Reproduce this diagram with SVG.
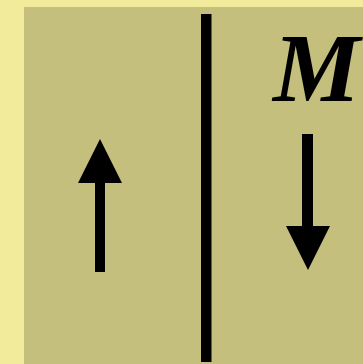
<svg xmlns="http://www.w3.org/2000/svg" width="363" height="364" viewBox="0 0 363 364">
<style>
.ink{fill:#000}
.lbl{font-family:"Liberation Serif","Times New Roman",serif;font-weight:bold;font-style:italic;font-size:98px;fill:#000}
</style>
<rect x="0" y="0" width="363" height="364" fill="#f1eb9b"/>
<rect x="24" y="7" width="339" height="357" fill="#c5bf7e"/>
<g id="divider">
<rect class="ink" x="201" y="14" width="10.5" height="348"/>
</g>
<g id="arrow-up">
<rect class="ink" x="95" y="180" width="10" height="92"/>
<polygon class="ink" points="100,139 122,183 78,183"/>
</g>
<g id="arrow-down">
<rect class="ink" x="302" y="134" width="11" height="95"/>
<polygon class="ink" points="286,226 330,226 308,270"/>
</g>
<g id="label-M">
<text class="lbl" x="273" y="101">M</text>
</g>
</svg>
